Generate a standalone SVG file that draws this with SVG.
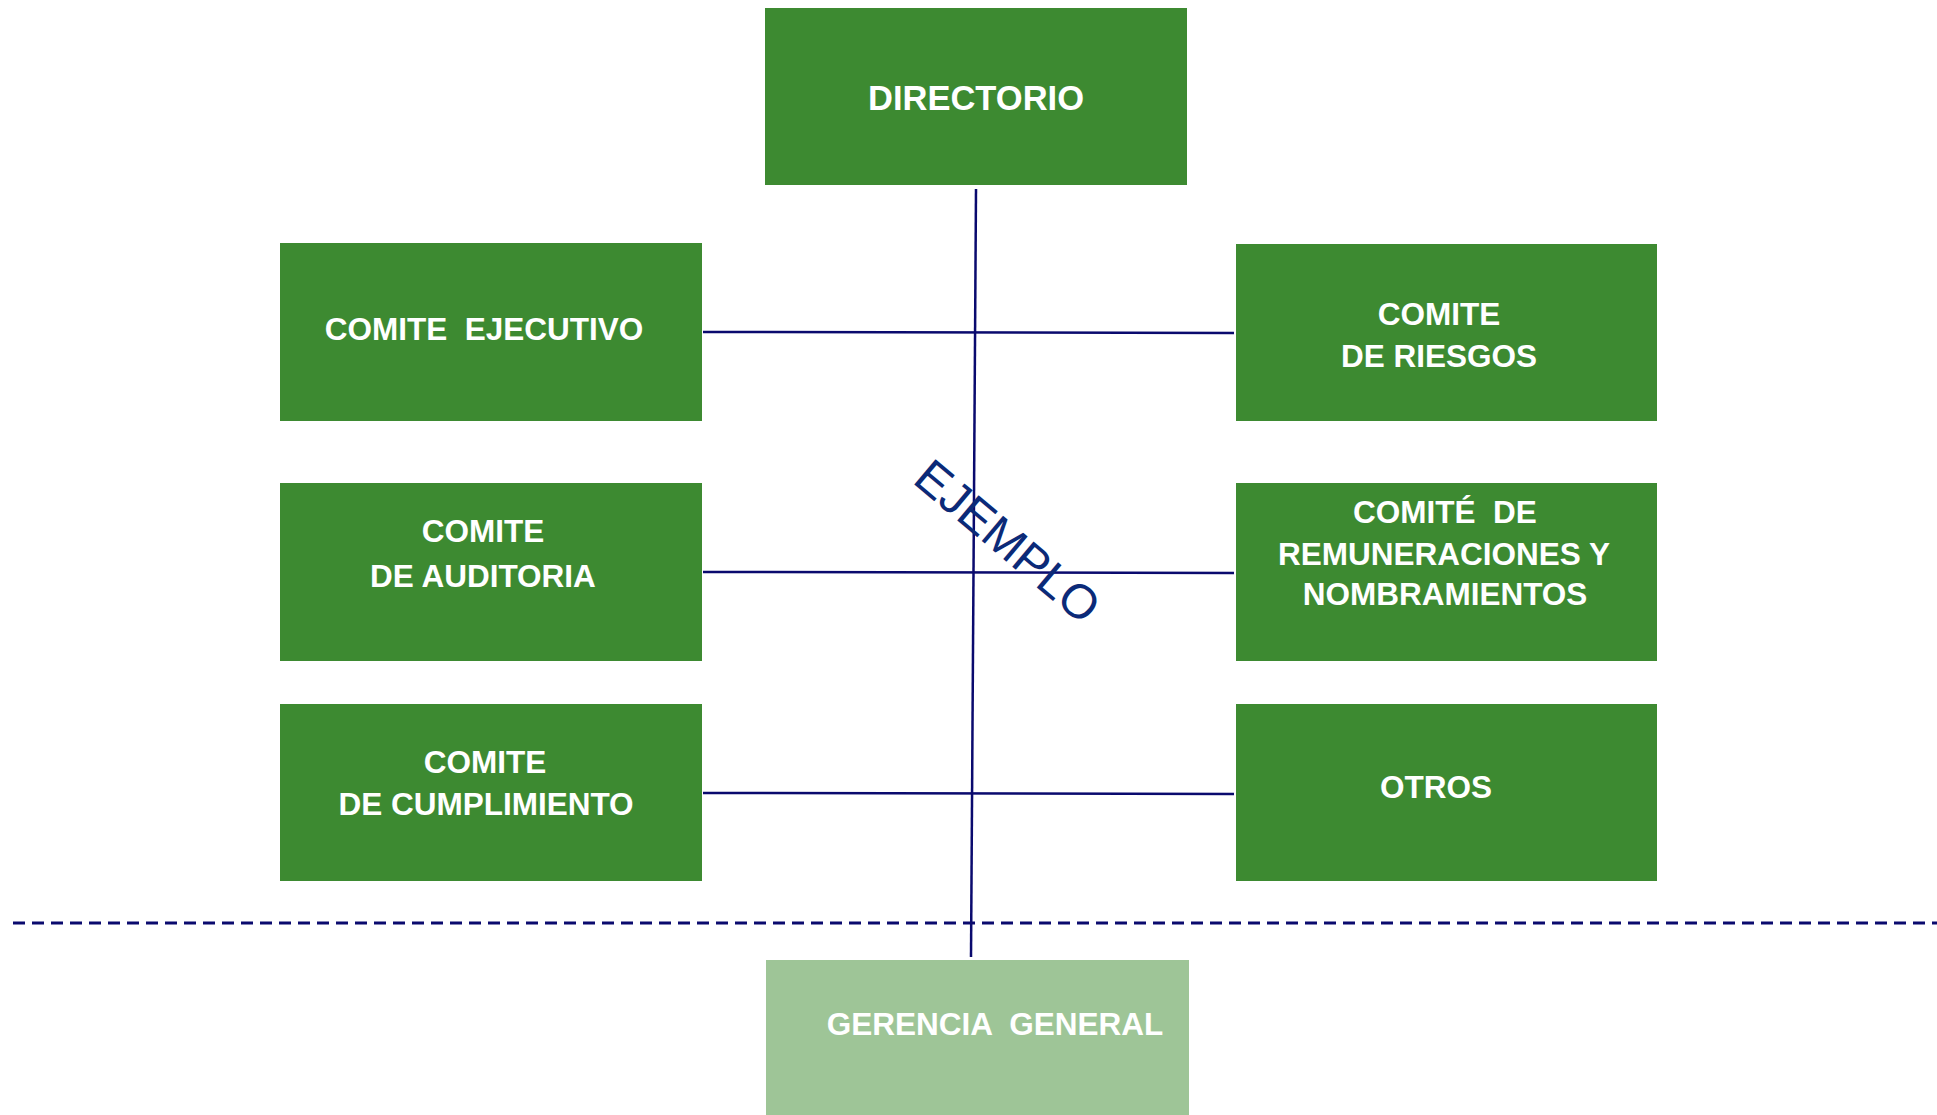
<svg xmlns="http://www.w3.org/2000/svg" width="1937" height="1115" viewBox="0 0 1937 1115">
<style>
.box{fill:#3D8A31;}
.boxl{fill:#9EC597;}
.t{font-family:"Liberation Sans",Arial,sans-serif;font-weight:bold;font-size:31.5px;fill:#ffffff;text-anchor:middle;white-space:pre;}
.ln{stroke:#0A0A6E;stroke-width:2.5;fill:none;}
.dash{stroke:#0A0A6E;stroke-width:3;stroke-dasharray:12 7;fill:none;}
.wm{font-family:"Liberation Sans",Arial,sans-serif;font-size:48px;fill:#0B2A78;text-anchor:middle;}
</style>
<rect width="1937" height="1115" fill="#ffffff"/>
<g id="connectors">
<line class="ln" x1="976" y1="189" x2="971" y2="957"/>
<line class="ln" x1="703" y1="332" x2="1234" y2="333"/>
<line class="ln" x1="703" y1="572" x2="1234" y2="573"/>
<line class="ln" x1="703" y1="793" x2="1234" y2="794"/>
<line class="dash" x1="13" y1="923" x2="1937" y2="923"/>
</g>
<g id="directorio">
<rect class="box" x="765" y="8" width="422" height="177"/>
<text class="t" x="976" y="110" style="font-size:34.5px">DIRECTORIO</text>
</g>
<g id="comite-ejecutivo">
<rect class="box" x="280" y="243" width="422" height="178"/>
<text class="t" x="484" y="340">COMITE  EJECUTIVO</text>
</g>
<g id="comite-riesgos">
<rect class="box" x="1236" y="244" width="421" height="177"/>
<text class="t" x="1439" y="325">COMITE</text>
<text class="t" x="1439" y="367">DE RIESGOS</text>
</g>
<g id="comite-auditoria">
<rect class="box" x="280" y="483" width="422" height="178"/>
<text class="t" x="483" y="542">COMITE</text>
<text class="t" x="483" y="587">DE AUDITORIA</text>
</g>
<g id="comite-remuneraciones">
<rect class="box" x="1236" y="483" width="421" height="178"/>
<text class="t" x="1445" y="523">COMITÉ  DE</text>
<text class="t" x="1444" y="565">REMUNERACIONES Y</text>
<text class="t" x="1445" y="605">NOMBRAMIENTOS</text>
</g>
<g id="comite-cumplimiento">
<rect class="box" x="280" y="704" width="422" height="177"/>
<text class="t" x="485" y="773">COMITE</text>
<text class="t" x="486" y="815">DE CUMPLIMIENTO</text>
</g>
<g id="otros">
<rect class="box" x="1236" y="704" width="421" height="177"/>
<text class="t" x="1436" y="798">OTROS</text>
</g>
<g id="gerencia-general">
<rect class="boxl" x="766" y="960" width="423" height="155"/>
<text class="t" x="995" y="1035">GERENCIA  GENERAL</text>
</g>
<g id="watermark">
<text class="wm" transform="translate(1008,541) rotate(40)" y="17">EJEMPLO</text>
</g>
</svg>
